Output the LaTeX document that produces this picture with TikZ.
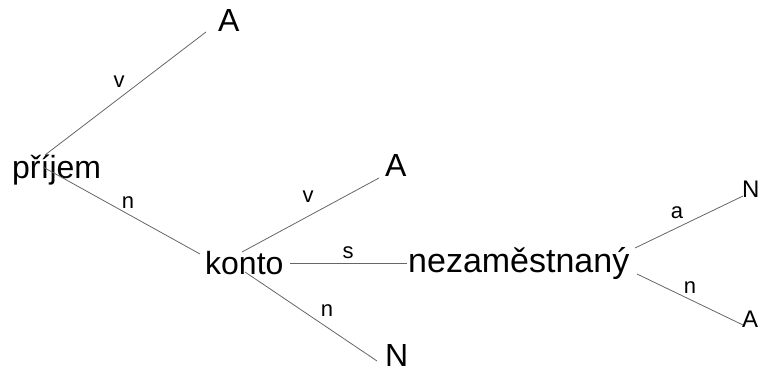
\documentclass[tikz,border=0pt]{standalone}
\usepackage{fontspec}
\setmainfont{Liberation Sans}
\begin{document}
\begin{tikzpicture}[x=1pt,y=1pt,
  word/.style={inner sep=0pt,anchor=base west,font=\fontsize{32}{36}\selectfont},
  leaf/.style={inner sep=0pt,anchor=base west,font=\fontsize{24}{28}\selectfont},
  lbl/.style={inner sep=0pt,font=\fontsize{22}{26}\selectfont},
  conn/.style={draw=black!60,line width=0.8pt}]
\useasboundingbox (0,0) rectangle (761,375);
\node[word] (prijem) at (12,196) {příjem};
\node[word] (A1) at (218,343) {A};
\node[word] (konto) at (205,100) {konto};
\node[word] (A2) at (385,198) {A};
\node[word] (N1) at (385,8) {N};
\node[word,font=\fontsize{34}{38}\selectfont] (nez) at (408,102) {nezaměstnaný};
\node[leaf] (N2) at (742,177) {N};
\node[leaf] (A3) at (742,47) {A};
\draw[conn] ([shift={(33,24)}]prijem.base west) -- ([shift={(-12,0)}]A1.base west);
\draw[conn] ([shift={(31,12)}]prijem.base west) -- ([shift={(-5,21)}]konto.base west);
\draw[conn] ([shift={(37,23)}]konto.base west) -- ([shift={(-6,-1)}]A2.base west);
\draw[conn] ([shift={(85,12)}]konto.base west) -- ([shift={(-1,10)}]nez.base west);
\draw[conn] ([shift={(40,3)}]konto.base west) -- ([shift={(-8,6)}]N1.base west);
\draw[conn] ([shift={(227,25)}]nez.base west) -- ([shift={(1,2)}]N2.base west);
\draw[conn] ([shift={(229,-1)}]nez.base west) -- ([shift={(1,3)}]A3.base west);
\node[lbl] (l1) at (119,293) {v};
\node[lbl] (l2) at (128,172) {n};
\node[lbl] (l3) at (308,178) {v};
\node[lbl] (l4) at (348,122) {s};
\node[lbl] (l5) at (327,64) {n};
\node[lbl] (l6) at (677,162) {a};
\node[lbl] (l7) at (690,87) {n};
\end{tikzpicture}
\end{document}
